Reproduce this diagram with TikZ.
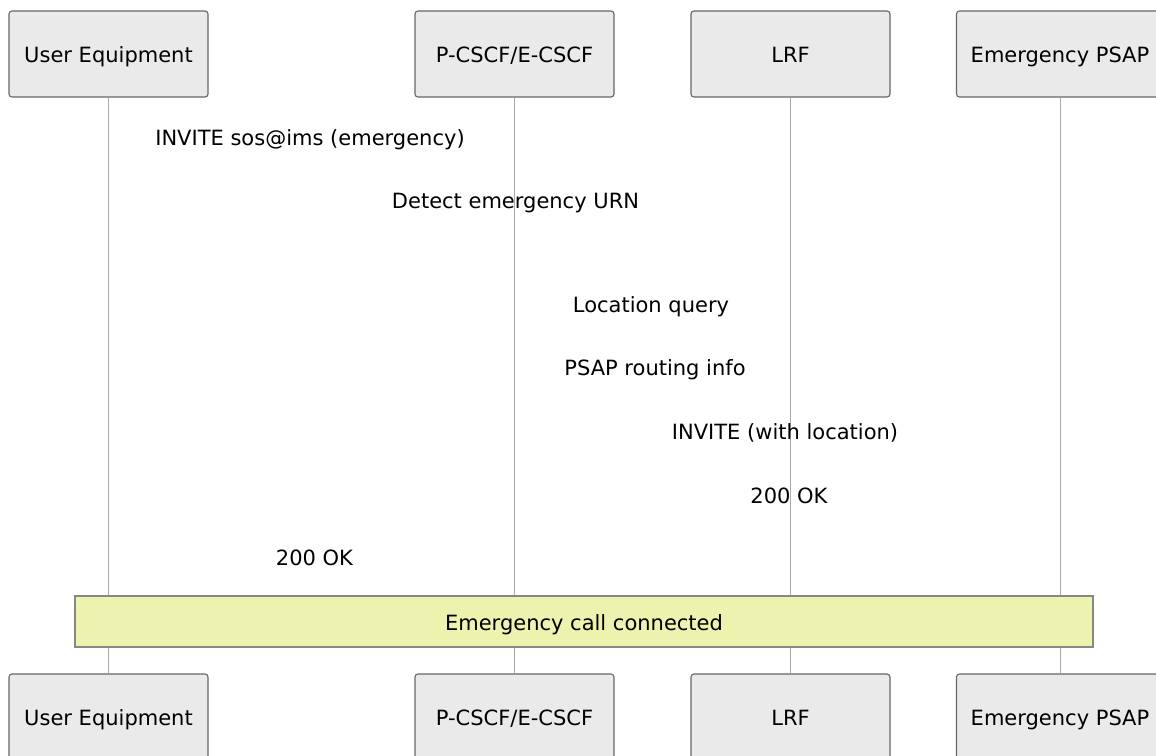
\documentclass[tikz,border=0pt]{standalone}
\usepackage{fontspec}
\setmainfont{DejaVu Sans}
\usepackage{tikz}
\definecolor{actorfill}{HTML}{EAEAEA}
\definecolor{actorline}{HTML}{666666}
\definecolor{lifegray}{HTML}{AAAAAA}
\definecolor{notefill}{HTML}{EDF2AE}
\definecolor{noteline}{HTML}{888888}
\begin{document}
\begin{tikzpicture}[x=1pt, y=-1pt, font=\fontsize{21}{25}\selectfont,
	actor/.style={draw=actorline, fill=actorfill, line width=1.1pt, rounded corners=3pt,
		minimum width=199pt, minimum height=86pt, inner sep=0pt,
		text height=20pt, text depth=3pt},
	lifeline/.style={draw=lifegray, line width=1pt},
	msg/.style={inner sep=0pt, anchor=base},
	notebox/.style={draw=noteline, fill=notefill, line width=1.1pt,
		minimum width=1018pt, minimum height=51pt, inner sep=0pt,
		text height=20pt, text depth=3pt}]
	\useasboundingbox (0,0) rectangle (1156,755);
	% actors top
	\node (ueT) at (108.5,54) [actor] {User Equipment};
	\node (cscfT) at (514.5,54) [actor] {P-CSCF/E-CSCF};
	\node (lrfT) at (790.5,54) [actor] {LRF};
	\node (psapT) at (1060,54) [actor, minimum width=207pt] {Emergency PSAP};
	% actors bottom
	\node (ueB) at (108.5,717) [actor] {User Equipment};
	\node (cscfB) at (514.5,717) [actor] {P-CSCF/E-CSCF};
	\node (lrfB) at (790.5,717) [actor] {LRF};
	\node (psapB) at (1060,717) [actor, minimum width=207pt] {Emergency PSAP};
	% lifelines
	\draw[lifeline] (ueT) -- (ueB);
	\draw[lifeline] (cscfT) -- (cscfB);
	\draw[lifeline] (lrfT) -- (lrfB);
	\draw[lifeline] (psapT) -- (psapB);
	% messages
	\node (m1) at (310,145) [msg] {INVITE sos@ims (emergency)};
	\node (m2) at (515.5,208) [msg] {Detect emergency URN};
	\node (m3) at (651,312) [msg] {Location query};
	\node (m4) at (655,375) [msg] {PSAP routing info};
	\node (m5) at (785,439) [msg] {INVITE (with location)};
	\node (m6) at (789,503) [msg] {200 OK};
	\node (m7) at (314.5,565) [msg] {200 OK};
	% note
	\node (call) at (584,621.5) [notebox] {Emergency call connected};
\end{tikzpicture}
\end{document}
